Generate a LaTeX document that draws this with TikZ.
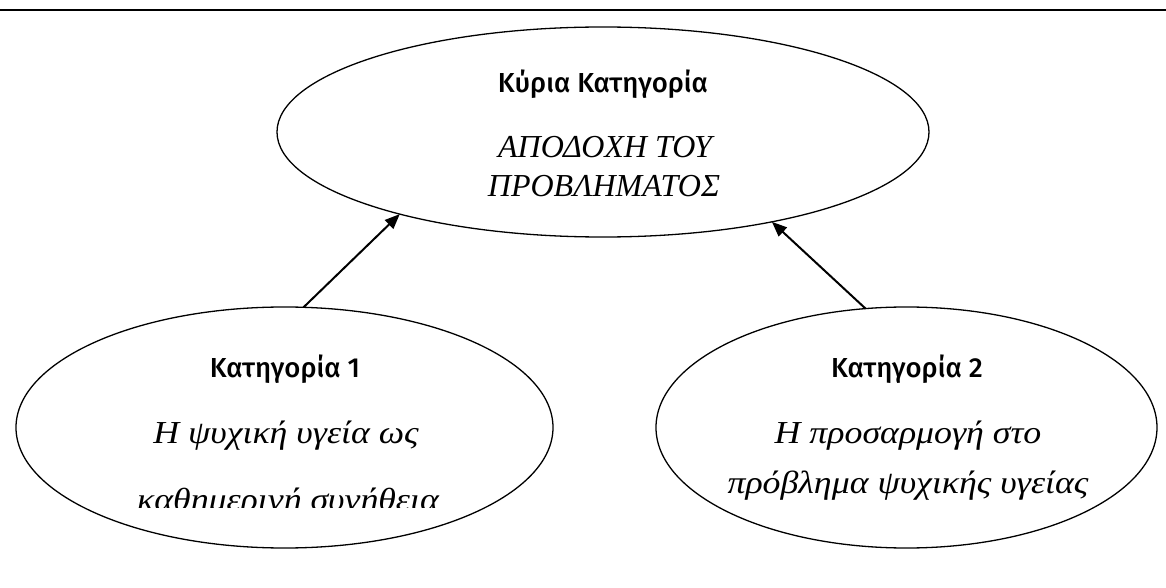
\documentclass[tikz,border=0pt]{standalone}
\usepackage{fontspec}
\setmainfont{Liberation Serif}
\newfontfamily\headfont{Fira Sans}[UprightFont={* Medium}]
\newfontfamily\bodyfont{Liberation Serif}[FakeStretch=1.12]
\usetikzlibrary{shapes.geometric,arrows.meta}

\begin{document}
\begin{tikzpicture}[x=1bp,y=-1bp,
  oval/.style={draw, ellipse, line width=1.3bp, inner sep=0pt, outer sep=0pt},
  head/.style={anchor=base, inner sep=0pt, font=\headfont\fontsize{27.5bp}{32bp}\selectfont},
  caps/.style={anchor=base, inner sep=0pt, font=\itshape\fontsize{32bp}{36bp}\selectfont},
  body/.style={anchor=base, inner sep=0pt, font=\bodyfont\itshape\fontsize{32bp}{36bp}\selectfont},
  link/.style={line width=2bp, -{Triangle[length=15bp,width=12bp]}}]
\useasboundingbox (0,0) rectangle (1166,588);

% rule across the top
\draw[line width=2.5bp] (0,10) -- (1166,10);

% the three category ovals
\node[oval, minimum width=652bp, minimum height=210bp] (main) at (603,132) {};
\node[oval, minimum width=537bp, minimum height=241bp] (cat1) at (284.5,427.5) {};
\node[oval, minimum width=501bp, minimum height=241bp] (cat2) at (906.5,427.5) {};

% main category
\node[head] (mainhead) at (603,93) {Κύρια Κατηγορία};
\node[caps] (mainl1) at (605,158) {ΑΠΟΔΟΧΗ ΤΟΥ};
\node[caps] (mainl2) at (604,197) {ΠΡΟΒΛΗΜΑΤΟΣ};

% category 1 (its last line is cut off by the text frame)
\node[head] (cat1head) at (285,377) {Κατηγορία 1};
\node[body] (cat1l1) at (286,443) {Η ψυχική υγεία ως};
\begin{scope}
  \clip (60,470) rectangle (520,507);
  \node[body] (cat1l2) at (288,510) {καθημερινή συνήθεια};
\end{scope}

% category 2
\node[head] (cat2head) at (907,377) {Κατηγορία 2};
\node[body] (cat2l1) at (908,443) {Η προσαρμογή στο};
\node[body] (cat2l2) at (908,493) {πρόβλημα ψυχικής υγείας};

% links up to the main category
\draw[link] (cat1.81.7) -- (main.202.4);
\draw[link] (cat2.109) -- (main.332);
\end{tikzpicture}
\end{document}
